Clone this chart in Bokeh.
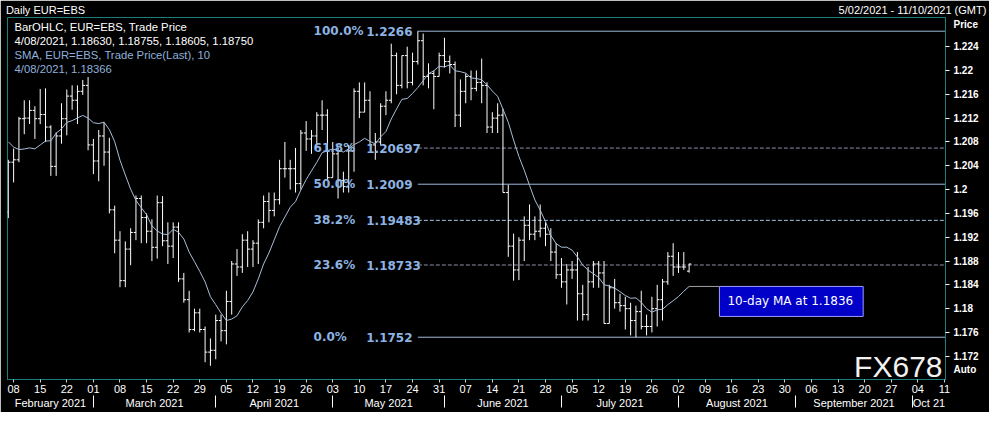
import numpy as np
import pandas as pd
from bokeh.plotting import figure
from bokeh.models import Range1d, LinearAxis, FixedTicker, Label, ColumnDataSource
from bokeh.embed import file_html
from bokeh.resources import INLINE

# ---------------- data ----------------
start_date = "2021-02-05"
axis_end_date = "2021-10-11"

opens = [1.1962, 1.2046, 1.2050, 1.2119, 1.2120, 1.2133, 1.2119, 1.2126, 1.2105, 1.2039,
         1.2090, 1.2119, 1.2157, 1.2150, 1.2165, 1.2175, 1.2075, 1.2048, 1.2090, 1.2063,
         1.1966, 1.1915, 1.1847, 1.1900, 1.1928, 1.1985, 1.1953, 1.1930, 1.1903, 1.1978,
         1.1914, 1.1905, 1.1937, 1.1850, 1.1815, 1.1765, 1.1793, 1.1765, 1.1727, 1.1730,
         1.1780, 1.1763, 1.1812, 1.1875, 1.1870, 1.1915, 1.1900, 1.1910, 1.1945, 1.1980,
         1.1965, 1.1983, 1.2035, 1.2035, 1.2035, 1.2010, 1.2095, 1.2085, 1.2090, 1.2125,
         1.2125, 1.2020, 1.2060, 1.2015, 1.2005, 1.2065, 1.2165, 1.2130, 1.2150, 1.2075,
         1.2080, 1.2140, 1.2150, 1.2225, 1.2175, 1.2225, 1.2180, 1.2215, 1.2250, 1.2190,
         1.2195, 1.2190, 1.2225, 1.2215, 1.2210, 1.2125, 1.2165, 1.2190, 1.2170, 1.2180,
         1.2175, 1.2105, 1.2120, 1.2125, 1.1995, 1.1905, 1.1865, 1.1915, 1.1940, 1.1925,
         1.1930, 1.1935, 1.1925, 1.1895, 1.1857, 1.1845, 1.1865, 1.1865, 1.1825, 1.1790,
         1.1845, 1.1875, 1.1860, 1.1775, 1.1835, 1.1810, 1.1805, 1.1800, 1.1780, 1.1795,
         1.1770, 1.1770, 1.1800, 1.1815, 1.1845, 1.1888, 1.1870, 1.1870, 1.18630]
highs = [1.2050, 1.2069, 1.2122, 1.2150, 1.2150, 1.2140, 1.2169, 1.2170, 1.2108, 1.2096,
         1.2145, 1.2168, 1.2175, 1.2175, 1.2184, 1.2189, 1.2085, 1.2100, 1.2113, 1.2087,
         1.1973, 1.1930, 1.1913, 1.1935, 1.1990, 1.1990, 1.1960, 1.1950, 1.1990, 1.1989,
         1.1945, 1.1945, 1.1945, 1.1860, 1.1830, 1.1800, 1.1800, 1.1770, 1.1750, 1.1790,
         1.1790, 1.1830, 1.1880, 1.1900, 1.1925, 1.1930, 1.1915, 1.1950, 1.1990, 1.1995,
         1.1995, 1.2050, 1.2080, 1.2050, 1.2070, 1.2100, 1.2115, 1.2100, 1.2130, 1.2150,
         1.2135, 1.2080, 1.2070, 1.2030, 1.2075, 1.2170, 1.2180, 1.2180, 1.2165, 1.2095,
         1.2145, 1.2165, 1.2245, 1.2230, 1.2225, 1.2240, 1.2230, 1.2266, 1.2262, 1.2212,
         1.2200, 1.2230, 1.2255, 1.2225, 1.2215, 1.2185, 1.2195, 1.2200, 1.2200, 1.2220,
         1.2180, 1.2130, 1.2145, 1.2136, 1.2008, 1.1926, 1.1920, 1.1955, 1.1975, 1.1955,
         1.1975, 1.1945, 1.1935, 1.1910, 1.1885, 1.1875, 1.1880, 1.1895, 1.1840, 1.1870,
         1.1880, 1.1880, 1.1880, 1.1840, 1.1850, 1.1825, 1.1820, 1.1810, 1.1805, 1.1830,
         1.1790, 1.1820, 1.1840, 1.1850, 1.1895, 1.1910, 1.1895, 1.1895, 1.18755]
lows = [1.1952, 1.2012, 1.2046, 1.2093, 1.2110, 1.2085, 1.2110, 1.2080, 1.2023, 1.2023,
        1.2077, 1.2091, 1.2134, 1.2110, 1.2159, 1.2066, 1.2026, 1.2014, 1.2040, 1.1960,
        1.1893, 1.1836, 1.1836, 1.1873, 1.1915, 1.1910, 1.1910, 1.1880, 1.1884, 1.1905,
        1.1875, 1.1885, 1.1845, 1.1810, 1.1760, 1.1762, 1.1760, 1.1710, 1.1704, 1.1715,
        1.1745, 1.1740, 1.1790, 1.1855, 1.1860, 1.1870, 1.1870, 1.1875, 1.1935, 1.1945,
        1.1955, 1.1975, 1.2020, 1.2000, 1.1995, 1.2000, 1.2065, 1.2060, 1.2070, 1.2100,
        1.2015, 1.2020, 1.1985, 1.1995, 1.1995, 1.2030, 1.2120, 1.2130, 1.2075, 1.2050,
        1.2075, 1.2125, 1.2145, 1.2160, 1.2170, 1.2170, 1.2175, 1.2210, 1.2175, 1.2170,
        1.2135, 1.2190, 1.2205, 1.2195, 1.2105, 1.2105, 1.2145, 1.2150, 1.2165, 1.2145,
        1.2095, 1.2095, 1.2095, 1.1995, 1.1887, 1.1847, 1.1848, 1.1880, 1.1915, 1.1915,
        1.1920, 1.1905, 1.1880, 1.1850, 1.1835, 1.1807, 1.1850, 1.1780, 1.1780, 1.1780,
        1.1835, 1.1835, 1.1775, 1.1775, 1.1800, 1.1795, 1.1765, 1.1755, 1.1752, 1.1765,
        1.1755, 1.1760, 1.1770, 1.1780, 1.1840, 1.1855, 1.1860, 1.1865, 1.18605]
closes = [1.2046, 1.2050, 1.2119, 1.2120, 1.2133, 1.2119, 1.2126, 1.2105, 1.2039, 1.2090,
          1.2119, 1.2157, 1.2150, 1.2165, 1.2175, 1.2075, 1.2048, 1.2090, 1.2063, 1.1966,
          1.1915, 1.1847, 1.1900, 1.1928, 1.1985, 1.1953, 1.1930, 1.1903, 1.1978, 1.1914,
          1.1905, 1.1937, 1.1850, 1.1815, 1.1765, 1.1793, 1.1765, 1.1727, 1.1730, 1.1780,
          1.1763, 1.1812, 1.1875, 1.1870, 1.1915, 1.1900, 1.1910, 1.1945, 1.1980, 1.1965,
          1.1983, 1.2035, 1.2035, 1.2035, 1.2010, 1.2095, 1.2085, 1.2090, 1.2125, 1.2125,
          1.2020, 1.2060, 1.2015, 1.2005, 1.2065, 1.2165, 1.2130, 1.2150, 1.2075, 1.2080,
          1.2140, 1.2150, 1.2225, 1.2175, 1.2225, 1.2180, 1.2215, 1.2250, 1.2190, 1.2195,
          1.2190, 1.2225, 1.2215, 1.2210, 1.2125, 1.2165, 1.2190, 1.2170, 1.2180, 1.2175,
          1.2105, 1.2120, 1.2125, 1.1995, 1.1905, 1.1865, 1.1915, 1.1940, 1.1925, 1.1930,
          1.1935, 1.1925, 1.1895, 1.1857, 1.1845, 1.1865, 1.1865, 1.1825, 1.1790, 1.1845,
          1.1875, 1.1860, 1.1775, 1.1835, 1.1810, 1.1805, 1.1800, 1.1780, 1.1795, 1.1770,
          1.1770, 1.1800, 1.1815, 1.1845, 1.1888, 1.1870, 1.1870, 1.1870, 1.18750]
# closes of the 9 sessions before the first bar (needed for the 10-day SMA)
prior_closes = [1.2140, 1.2160, 1.2110, 1.2115, 1.2135, 1.2060, 1.2040, 1.2035, 1.1962]
sma_period = 10

fib_pct_labels = ["100.0%", "61.8%", "50.0%", "38.2%", "23.6%", "0.0%"]
fib_values = [1.2266, 1.20697, 1.2009, 1.19483, 1.18733, 1.1752]
fib_value_labels = ["1.2266", "1.20697", "1.2009", "1.19483", "1.18733", "1.1752"]
fib_dashed = [False, True, False, True, True, False]
fib_colors = ["#9fb9d9", "#8e8aa8", "#9fb9d9", "#a6c4e6", "#9090a6", "#9fb9d9"]

price_ticks = [1.172, 1.176, 1.18, 1.184, 1.188, 1.192, 1.196, 1.2, 1.204, 1.208,
               1.212, 1.216, 1.22, 1.224]
price_tick_labels = ["1.172", "1.176", "1.18", "1.184", "1.188", "1.192", "1.196", "1.2",
                     "1.204", "1.208", "1.212", "1.216", "1.22", "1.224"]
month_labels = ["February 2021", "March 2021", "April 2021", "May 2021", "June 2021",
                "July 2021", "August 2021", "September 2021", "Oct 21"]

header_left = "Daily EUR=EBS"
header_right = "5/02/2021 - 11/10/2021 (GMT)"
legend_lines = ["BarOHLC, EUR=EBS, Trade Price",
                "4/08/2021, 1.18630, 1.18755, 1.18605, 1.18750",
                "SMA, EUR=EBS, Trade Price(Last),  10",
                "4/08/2021, 1.18366"]
ma_label = "10-day MA at 1.1836"
watermark = "FX678"

# ---------------- derived positions ----------------
axis_dates = pd.bdate_range(start_date, axis_end_date)
n = len(closes)
idx = np.arange(n)
all_closes = pd.Series(prior_closes + closes)
sma = all_closes.rolling(sma_period).mean().to_numpy()[len(prior_closes):]

x_lo, x_hi = -0.15, len(axis_dates) - 1 + 0.2
y_lo, y_hi = 1.1681, 1.2289

day_ticks, day_labels = [], {}
for i, d in enumerate(axis_dates):
    if d.weekday() == 0:
        day_ticks.append(i)
        day_labels[i] = d.strftime("%d")

month_bounds = [i for i in range(1, len(axis_dates)) if axis_dates[i].month != axis_dates[i - 1].month]
edges = [x_lo] + month_bounds + [x_hi]
month_centers, month_over = [], {}
for k in range(len(edges) - 1):
    c = round((edges[k] + edges[k + 1]) / 2.0, 3)
    month_centers.append(c)
    month_over[c] = month_labels[k]

# ---------------- figure ----------------
BG = "#000000"
TEAL = "#1d7c7c"
W, H = 989, 412
BL, BR, BT, BB = 7, 44, 17, 33
p = figure(width=W, height=H, x_range=Range1d(x_lo, x_hi), y_range=Range1d(y_lo, y_hi),
           y_axis_location="right", x_axis_location="below",
           output_backend="svg", toolbar_location=None,
           background_fill_color=BG, border_fill_color=BG,
           min_border_left=BL, min_border_right=BR, min_border_top=BT, min_border_bottom=BB)
p.grid.visible = False
p.outline_line_color = TEAL
p.outline_line_width = 1

px_per_x = (W - BL - BR) / (x_hi - x_lo)
px_per_y = (H - BT - BB) / (y_hi - y_lo)

# day axis (the default axis below the frame)
xa = p.below[0]
xa.ticker = FixedTicker(ticks=day_ticks)
xa.major_label_overrides = day_labels
xa.major_tick_out = 3
xa.major_tick_in = 0
xa.major_tick_line_color = "#d0d0d0"
xa.minor_tick_line_color = None
xa.axis_line_color = TEAL
xa.major_label_text_color = "white"
xa.major_label_text_font = "Liberation Sans"
xa.major_label_text_font_size = "11px"
xa.major_label_standoff = 2

# right price axis: value ticks drawn as minor ticks, "Price"/"Auto" captions as labels
price_word_y = y_hi - 7 / px_per_y
auto_word_y = y_lo + 10 / px_per_y
ya = p.right[0]
ya.ticker = FixedTicker(ticks=price_ticks + [price_word_y, auto_word_y], minor_ticks=price_ticks)
ov = dict(zip(price_ticks, price_tick_labels))
ov[price_word_y] = "Price"
ov[auto_word_y] = "Auto"
ya.major_label_overrides = ov
ya.major_tick_out = 0
ya.major_tick_in = 0
ya.major_tick_line_color = None
ya.minor_tick_out = 4
ya.minor_tick_in = 0
ya.minor_tick_line_color = "white"
ya.axis_line_color = TEAL
ya.major_label_text_color = "white"
ya.major_label_text_font = "Liberation Sans"
ya.major_label_text_font_style = "bold"
ya.major_label_text_font_size = "10px"
ya.major_label_standoff = 4

# month axis (separators drawn as minor ticks at month starts)
ma = LinearAxis(ticker=FixedTicker(ticks=month_centers, minor_ticks=month_bounds),
                major_label_overrides=month_over)
ma.major_tick_out = 0
ma.major_tick_in = 0
ma.major_tick_line_color = None
ma.minor_tick_out = 12
ma.minor_tick_in = 0
ma.minor_tick_line_color = "white"
ma.minor_tick_line_width = 1
ma.axis_line_color = None
ma.major_label_text_color = "white"
ma.major_label_text_font = "Liberation Sans"
ma.major_label_text_font_size = "11px"
ma.major_label_standoff = -11
p.add_layout(ma, "below")

# header as an axis above the frame
hl_x = x_lo + (5 + 40 - BL) / px_per_x
hr_x = x_lo + (W - 2 - 75 - BL) / px_per_x
ha = LinearAxis(ticker=FixedTicker(ticks=[hl_x, hr_x]),
                major_label_overrides={hl_x: header_left, hr_x: header_right})
ha.major_tick_out = 0
ha.major_tick_in = 0
ha.major_tick_line_color = None
ha.minor_tick_line_color = None
ha.axis_line_color = None
ha.major_label_text_color = "white"
ha.major_label_text_font = "Liberation Sans"
ha.major_label_text_font_size = "11px"
ha.major_label_standoff = 2
p.add_layout(ha, "above")

# fibonacci levels
fib_start = int(np.argmax(highs))
for val, dashed, col in zip(fib_values, fib_dashed, fib_colors):
    p.segment(x0=[fib_start], y0=[val], x1=[x_hi], y1=[val], line_color=col, line_width=1,
              line_dash="4 2" if dashed else "solid")

pct_x = 57.4
val_x = 67.3
for lab, vlab, val in zip(fib_pct_labels, fib_value_labels, fib_values):
    for xx, t in ((pct_x, lab), (val_x, vlab)):
        p.add_layout(Label(x=xx, y=val, text=t, text_color="#8db3e2", text_font="DejaVu Sans",
                           text_font_style="bold", text_font_size="12px",
                           text_baseline="middle", text_align="left"))

# OHLC bars
src = ColumnDataSource(dict(x=idx, o=opens, h=highs, l=lows, c=closes,
                            xl=idx - 0.42, xr=idx + 0.42))
p.segment(x0="x", y0="l", x1="x", y1="h", source=src, line_color="white", line_width=1)
p.segment(x0="xl", y0="o", x1="x", y1="o", source=src, line_color="white", line_width=1)
p.segment(x0="x", y0="c", x1="xr", y1="c", source=src, line_color="white", line_width=1)

# SMA
p.line(idx, sma, line_color="#a9bdd8", line_width=1)

# MA callout
box_x = 133.7
p.segment(x0=[idx[-1]], y0=[sma[-1]], x1=[box_x], y1=[sma[-1]], line_color="#a0a0a0", line_width=1)
p.add_layout(Label(x=box_x, y=sma[-1], y_offset=-15, text=ma_label, text_color="white",
                   text_font="DejaVu Sans", text_font_size="12px",
                   text_baseline="middle", text_align="left",
                   background_fill_color="#0000c8", border_line_color="#9c9cff",
                   padding=dict(left=8, right=10, top=8, bottom=8)))

# legend texts
leg_cols = ["white", "white", "#8fb0dc", "#8fb0dc"]
for k, (t, col) in enumerate(zip(legend_lines, leg_cols)):
    p.add_layout(Label(x=x_lo, y=y_hi, x_offset=7, y_offset=-(9 + 14.3 * k), text=t,
                       text_color=col, text_font="Liberation Sans", text_font_size="11.3px",
                       text_baseline="middle", text_align="left"))

# watermark (kept inside the frame)
p.add_layout(Label(x=x_hi, y=y_lo, x_offset=-3, y_offset=13, text=watermark,
                   text_color="#f2f2f2", text_font="Liberation Sans", text_font_size="30px",
                   text_baseline="middle", text_align="right"))

open("out.html", "w").write(file_html(p, INLINE))
